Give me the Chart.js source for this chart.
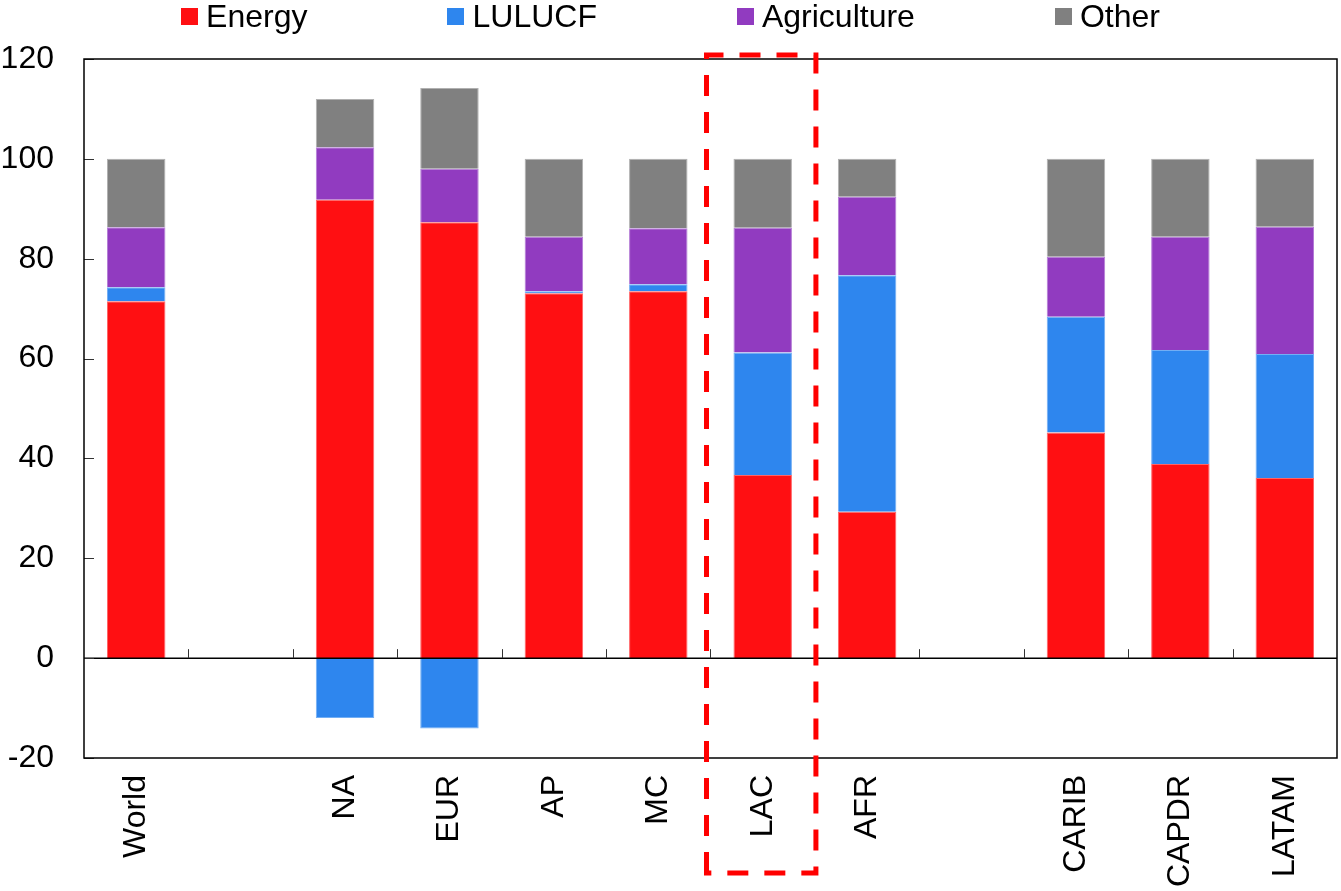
<!DOCTYPE html>
<html lang="en">
<head>
    <meta charset="UTF-8">
    <title>Emissions by sector</title>
    <script src="https://cdn.jsdelivr.net/npm/chart.js"></script>
    <style>
        body {
            margin: 0;
            padding: 0;
            background: #fff;
            font-family: 'Liberation Sans', Arial, sans-serif;
        }

        #wrap {
            position: relative;
            width: 1341px;
            height: 891px;
        }

        #chart {
            position: absolute;
            left: 0;
            top: 0;
        }

        #legend {
            position: absolute;
            left: 0;
            top: 0;
            width: 1341px;
            display: flex;
            justify-content: center;
            gap: 140px;
            font-size: 32px;
            line-height: 32px;
            color: #000;
        }

        .item {
            display: flex;
            align-items: center;
        }

        .box {
            width: 17px;
            height: 17px;
            margin-right: 8px;
        }
    </style>
</head>
<body>
    <div id="wrap">
        <canvas id="chart" width="1341" height="891"></canvas>
        <div id="legend"></div>
    </div>

    <script>
        // Categories (empty strings are the gaps in the original)
        const regions = ['World', '', 'NA', 'EUR', 'AP', 'MC', 'LAC', 'AFR', '', 'CARIB', 'CAPDR', 'LATAM'];

        // Shares by sector
        const energy      = [71.5, null, 91.8,  87.3, 73.1, 73.5, 36.7, 29.3, null, 45.2, 38.9, 36.1];
        const lulucf      = [ 2.8, null, -12.0, -14.1, 0.4,  1.4, 24.5, 47.4, null, 23.2, 22.8, 24.8];
        const agriculture = [12.0, null, 10.5,  10.7, 10.9, 11.2, 25.0, 15.7, null, 12.0, 22.7, 25.5];
        const other       = [13.7, null,  9.7,  16.2, 15.6, 13.9, 13.8,  7.6, null, 19.6, 15.6, 13.6];

        const yTicks = [-20, 0, 20, 40, 60, 80, 100, 120];
        const highlight = 'LAC';

        const series = [
            { label: 'Energy',      data: energy,      color: '#ff0f12', edge: '#ff6466' },
            { label: 'LULUCF',      data: lulucf,      color: '#2e86ee', edge: '#72aef4' },
            { label: 'Agriculture', data: agriculture, color: '#913bc0', edge: '#b47dd6' },
            { label: 'Other',       data: other,       color: '#808080', edge: '#b0b0b0' }
        ];

        Chart.defaults.font.family = "'Liberation Sans', Arial, sans-serif";
        Chart.defaults.font.size = 32;
        Chart.defaults.color = '#000';

        // Legend as html so the spacing can follow the original
        const legend = document.getElementById('legend');
        series.forEach(s => {
            const item = document.createElement('div');
            item.className = 'item';
            const box = document.createElement('span');
            box.className = 'box';
            box.style.background = s.color;
            const txt = document.createElement('span');
            txt.textContent = s.label;
            item.appendChild(box);
            item.appendChild(txt);
            legend.appendChild(item);
        });

        // Frame, zero line, inside tick marks and the dashed box round LAC
        const decorations = {
            id: 'decorations',
            afterDatasetsDraw(chart) {
                const ctx = chart.ctx;
                const area = chart.chartArea;
                const x = chart.scales.x;
                const y = chart.scales.y;
                const slot = x.width / regions.length;
                const zero = y.getPixelForValue(0);

                ctx.save();
                ctx.strokeStyle = '#000';
                ctx.lineWidth = 1.5;

                // zero line
                ctx.beginPath();
                ctx.moveTo(area.left, zero);
                ctx.lineTo(area.right, zero);
                ctx.stroke();

                // category boundary ticks pointing up from zero
                ctx.strokeStyle = '#333';
                ctx.lineWidth = 1;
                for (let i = 1; i < regions.length; i++) {
                    const px = Math.round(x.getPixelForValue(i) - slot / 2) + 0.5;
                    ctx.beginPath();
                    ctx.moveTo(px, zero);
                    ctx.lineTo(px, zero - 9);
                    ctx.stroke();
                }

                // y ticks pointing into the plot
                yTicks.forEach(v => {
                    const py = Math.round(y.getPixelForValue(v)) + 0.5;
                    ctx.beginPath();
                    ctx.moveTo(area.left, py);
                    ctx.lineTo(area.left + 10, py);
                    ctx.stroke();
                });

                // frame
                ctx.strokeStyle = '#000';
                ctx.lineWidth = 1.5;
                ctx.strokeRect(area.left, area.top, area.right - area.left, area.bottom - area.top);
                ctx.restore();
            },
            afterDraw(chart) {
                const ctx = chart.ctx;
                const x = chart.scales.x;
                const slot = x.width / regions.length;
                const cx = x.getPixelForValue(regions.indexOf(highlight));
                const left = cx - slot / 2 - 4;
                const right = cx + slot / 2 + 1;
                const top = chart.chartArea.top - 4;
                const bottom = chart.height - 18;

                ctx.save();
                ctx.strokeStyle = '#ff0000';
                ctx.lineWidth = 5;
                ctx.setLineDash([21, 16]);
                ctx.beginPath();
                ctx.moveTo(left, bottom);
                ctx.lineTo(left, top);
                ctx.lineTo(right, top);
                ctx.lineTo(right, bottom);
                ctx.closePath();
                ctx.stroke();
                ctx.restore();
            }
        };

        new Chart(document.getElementById('chart'), {
            type: 'bar',
            data: {
                labels: regions,
                datasets: series.map(s => ({
                    label: s.label,
                    data: s.data,
                    backgroundColor: s.color,
                    borderColor: s.edge,
                    borderWidth: 1,
                    barPercentage: 0.56,
                    categoryPercentage: 1
                }))
            },
            options: {
                responsive: false,
                animation: false,
                devicePixelRatio: 1,
                layout: {
                    padding: { top: 59, right: 4, left: 0, bottom: 0 }
                },
                plugins: {
                    legend: { display: false },
                    tooltip: { enabled: false }
                },
                scales: {
                    x: {
                        stacked: true,
                        grid: { display: false, drawTicks: false },
                        border: { display: false },
                        ticks: {
                            autoSkip: false,
                            minRotation: 90,
                            maxRotation: 90,
                            padding: 17
                        },
                        afterFit(scale) { scale.height = 133; }
                    },
                    y: {
                        stacked: true,
                        min: -20,
                        max: 120,
                        grid: { display: false, drawTicks: false },
                        border: { display: false },
                        ticks: {
                            stepSize: 20,
                            padding: 30
                        },
                        afterFit(scale) { scale.width = 84; }
                    }
                }
            },
            plugins: [decorations]
        });
    </script>
</body>
</html>
